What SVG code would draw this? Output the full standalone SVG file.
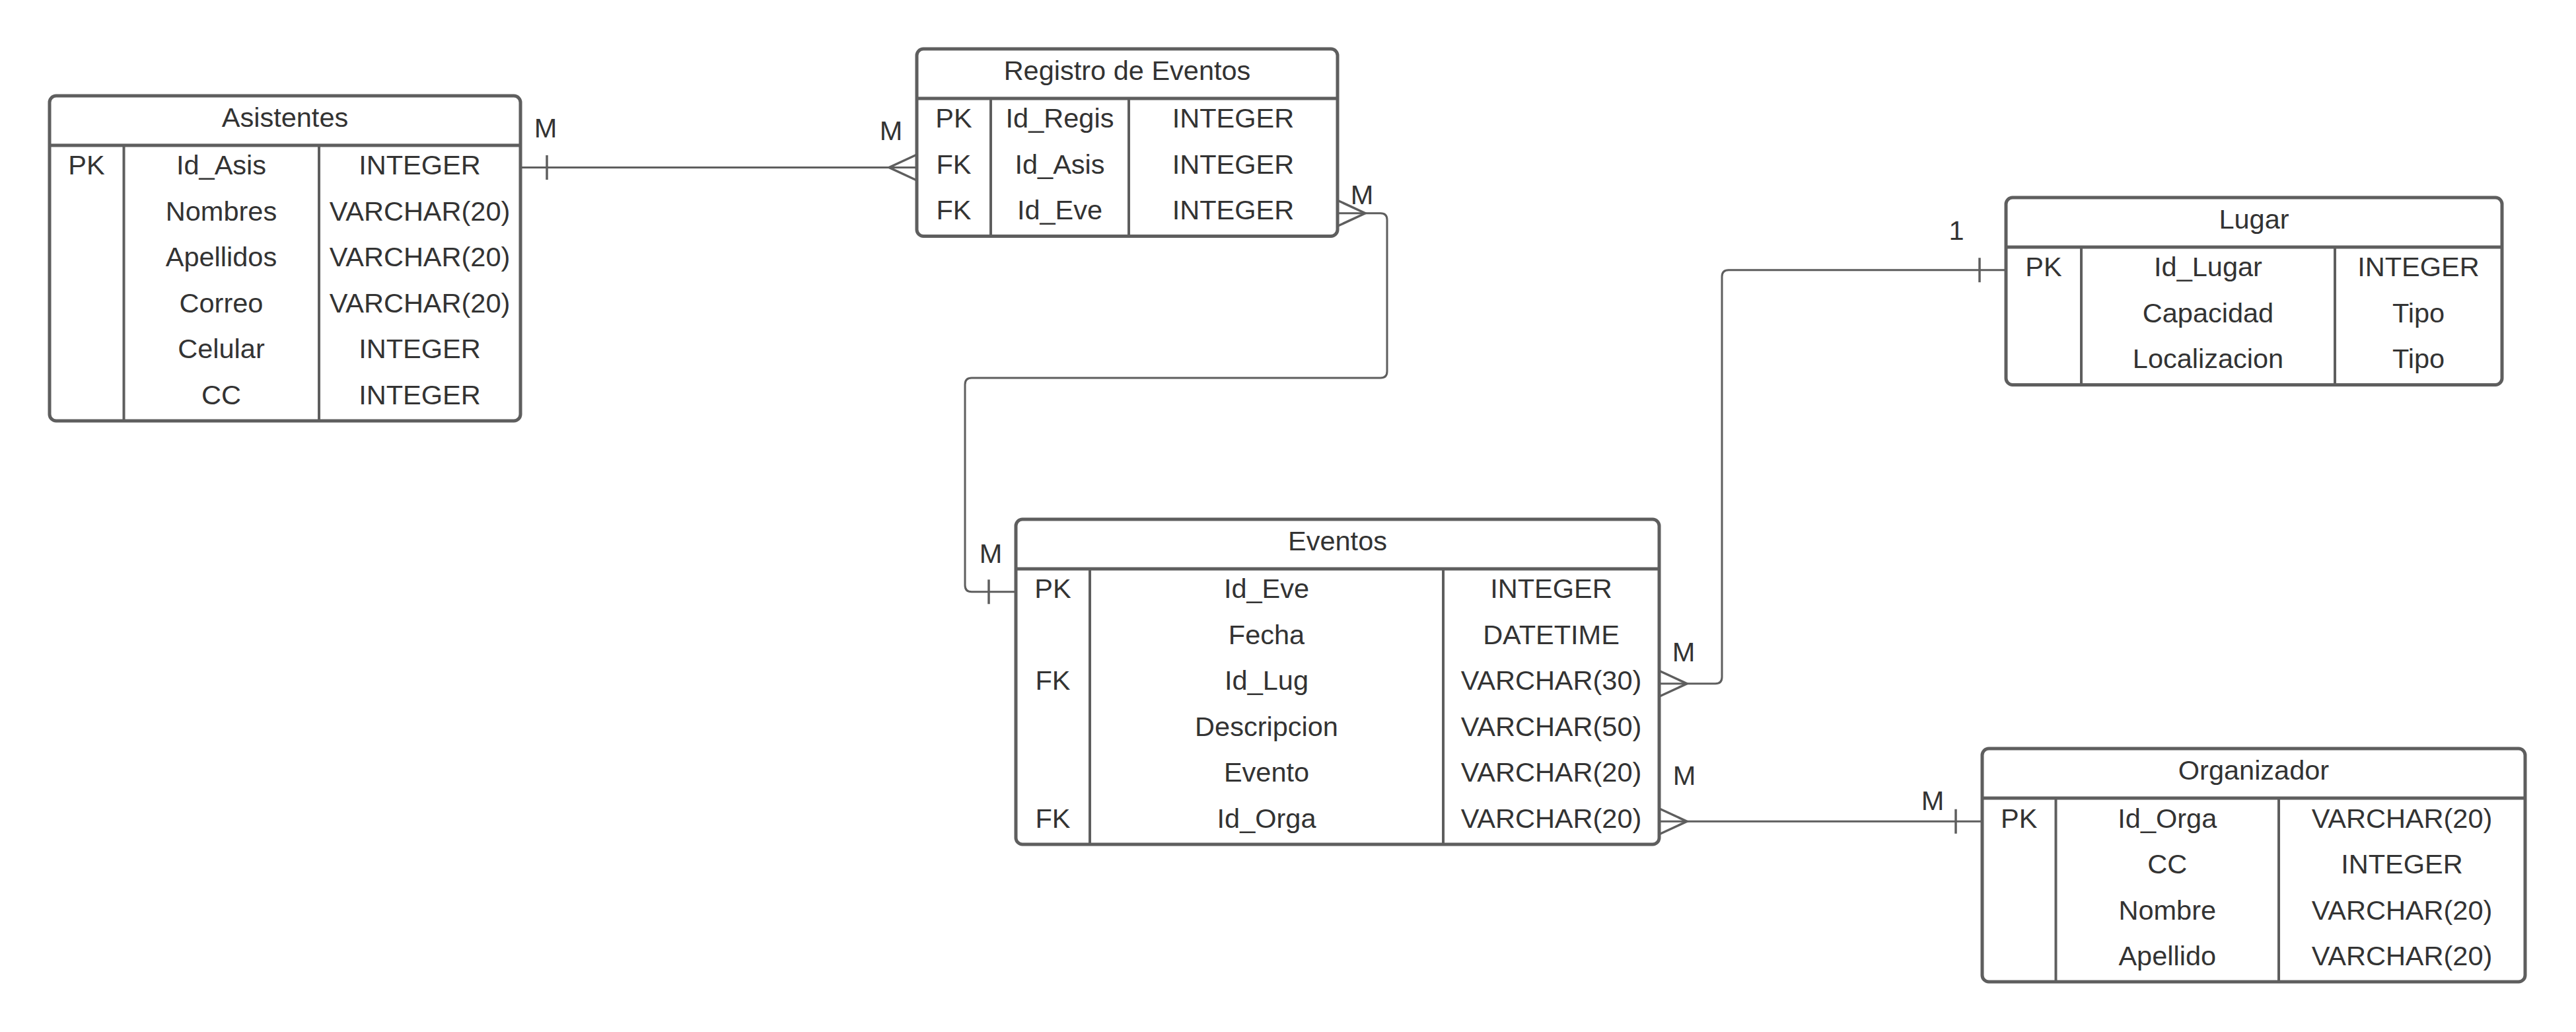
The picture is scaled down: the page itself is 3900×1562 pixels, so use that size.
<svg xmlns="http://www.w3.org/2000/svg" width="3900" height="1562" viewBox="0 0 3900 1562">
  <style>
    .box { fill: #ffffff; stroke: #5e5e5e; stroke-width: 5; }
    .hdr { stroke: #5e5e5e; stroke-width: 5; fill: none; }
    .col { stroke: #5e5e5e; stroke-width: 4; fill: none; }
    .t { font-family: "Liberation Sans", Arial, sans-serif; font-size: 41.5px; fill: #333333; text-anchor: middle; }
    .link { stroke: #5e5e5e; stroke-width: 3; fill: none; }
    .end { stroke: #5e5e5e; stroke-width: 3.5; fill: none; }
  </style>
  <rect width="3900" height="1562" fill="#ffffff"/>

  <!-- Asistentes -->
  <g id="asistentes">
    <rect class="box" x="75" y="145" width="713" height="492" rx="10"/>
    <line class="hdr" x1="75" y1="220" x2="788" y2="220"/>
    <line class="col" x1="187.5" y1="220" x2="187.5" y2="637"/>
    <line class="col" x1="483" y1="220" x2="483" y2="637"/>
    <text class="t" x="431.5" y="192">Asistentes</text>
    <text class="t" x="131" y="264">PK</text>
    <text class="t" x="335" y="264">Id_Asis</text>
    <text class="t" x="635.5" y="264">INTEGER</text>
    <text class="t" x="335" y="333.5">Nombres</text>
    <text class="t" x="635.5" y="333.5">VARCHAR(20)</text>
    <text class="t" x="335" y="403">Apellidos</text>
    <text class="t" x="635.5" y="403">VARCHAR(20)</text>
    <text class="t" x="335" y="472.5">Correo</text>
    <text class="t" x="635.5" y="472.5">VARCHAR(20)</text>
    <text class="t" x="335" y="542">Celular</text>
    <text class="t" x="635.5" y="542">INTEGER</text>
    <text class="t" x="335" y="611.5">CC</text>
    <text class="t" x="635.5" y="611.5">INTEGER</text>
  </g>

  <!-- Registro de Eventos -->
  <g id="registro-eventos">
    <rect class="box" x="1388" y="74" width="637" height="283.5" rx="10"/>
    <line class="hdr" x1="1388" y1="149" x2="2025" y2="149"/>
    <line class="col" x1="1500" y1="149" x2="1500" y2="357.5"/>
    <line class="col" x1="1709" y1="149" x2="1709" y2="357.5"/>
    <text class="t" x="1706.5" y="121">Registro de Eventos</text>
    <text class="t" x="1444" y="193">PK</text>
    <text class="t" x="1604.5" y="193">Id_Regis</text>
    <text class="t" x="1867" y="193">INTEGER</text>
    <text class="t" x="1444" y="262.5">FK</text>
    <text class="t" x="1604.5" y="262.5">Id_Asis</text>
    <text class="t" x="1867" y="262.5">INTEGER</text>
    <text class="t" x="1444" y="332">FK</text>
    <text class="t" x="1604.5" y="332">Id_Eve</text>
    <text class="t" x="1867" y="332">INTEGER</text>
  </g>

  <!-- Eventos -->
  <g id="eventos">
    <rect class="box" x="1538" y="786" width="974" height="492" rx="10"/>
    <line class="hdr" x1="1538" y1="861" x2="2512" y2="861"/>
    <line class="col" x1="1650" y1="861" x2="1650" y2="1278"/>
    <line class="col" x1="2185" y1="861" x2="2185" y2="1278"/>
    <text class="t" x="2025" y="833">Eventos</text>
    <text class="t" x="1594" y="905">PK</text>
    <text class="t" x="1917.5" y="905">Id_Eve</text>
    <text class="t" x="2348.5" y="905">INTEGER</text>
    <text class="t" x="1917.5" y="974.5">Fecha</text>
    <text class="t" x="2348.5" y="974.5">DATETIME</text>
    <text class="t" x="1594" y="1044">FK</text>
    <text class="t" x="1917.5" y="1044">Id_Lug</text>
    <text class="t" x="2348.5" y="1044">VARCHAR(30)</text>
    <text class="t" x="1917.5" y="1113.5">Descripcion</text>
    <text class="t" x="2348.5" y="1113.5">VARCHAR(50)</text>
    <text class="t" x="1917.5" y="1183">Evento</text>
    <text class="t" x="2348.5" y="1183">VARCHAR(20)</text>
    <text class="t" x="1594" y="1252.5">FK</text>
    <text class="t" x="1917.5" y="1252.5">Id_Orga</text>
    <text class="t" x="2348.5" y="1252.5">VARCHAR(20)</text>
  </g>

  <!-- Lugar -->
  <g id="lugar">
    <rect class="box" x="3037" y="299" width="751" height="283.5" rx="10"/>
    <line class="hdr" x1="3037" y1="374" x2="3788" y2="374"/>
    <line class="col" x1="3151" y1="374" x2="3151" y2="582.5"/>
    <line class="col" x1="3535" y1="374" x2="3535" y2="582.5"/>
    <text class="t" x="3412.5" y="346">Lugar</text>
    <text class="t" x="3094" y="418">PK</text>
    <text class="t" x="3343" y="418">Id_Lugar</text>
    <text class="t" x="3661.5" y="418">INTEGER</text>
    <text class="t" x="3343" y="487.5">Capacidad</text>
    <text class="t" x="3661.5" y="487.5">Tipo</text>
    <text class="t" x="3343" y="557">Localizacion</text>
    <text class="t" x="3661.5" y="557">Tipo</text>
  </g>

  <!-- Organizador -->
  <g id="organizador">
    <rect class="box" x="3001" y="1133" width="822" height="353" rx="10"/>
    <line class="hdr" x1="3001" y1="1208" x2="3823" y2="1208"/>
    <line class="col" x1="3112.5" y1="1208" x2="3112.5" y2="1486"/>
    <line class="col" x1="3450" y1="1208" x2="3450" y2="1486"/>
    <text class="t" x="3412" y="1180">Organizador</text>
    <text class="t" x="3056.75" y="1252.5">PK</text>
    <text class="t" x="3281.25" y="1252.5">Id_Orga</text>
    <text class="t" x="3636.5" y="1252.5">VARCHAR(20)</text>
    <text class="t" x="3281.25" y="1322">CC</text>
    <text class="t" x="3636.5" y="1322">INTEGER</text>
    <text class="t" x="3281.25" y="1391.5">Nombre</text>
    <text class="t" x="3636.5" y="1391.5">VARCHAR(20)</text>
    <text class="t" x="3281.25" y="1461">Apellido</text>
    <text class="t" x="3636.5" y="1461">VARCHAR(20)</text>
  </g>

  <!-- Relationships -->
  <g id="connectors">
    <!-- Asistentes 1 : M Registro de Eventos -->
    <path class="link" d="M788,253.5 H1388"/>
    <path class="end" d="M828,235 V272"/>
    <path class="end" d="M1388,234 L1346,253.5 L1388,273"/>
    <text class="t" x="826" y="208">M</text>
    <text class="t" x="1349" y="212">M</text>

    <!-- Registro de Eventos M : 1 Eventos -->
    <path class="link" d="M2025,322.75 H2090 Q2100,322.75 2100,332.75 V562 Q2100,572 2090,572 H1471 Q1461,572 1461,582 V885.75 Q1461,895.75 1471,895.75 H1538"/>
    <path class="end" d="M2025,303.25 L2067,322.75 L2025,342.25"/>
    <path class="end" d="M1497,877.25 V914.25"/>
    <text class="t" x="2062" y="309">M</text>
    <text class="t" x="1500" y="852">M</text>

    <!-- Eventos M : 1 Lugar -->
    <path class="link" d="M2512,1034.75 H2597 Q2607,1034.75 2607,1024.75 V418.75 Q2607,408.75 2617,408.75 H3037"/>
    <path class="end" d="M2512,1015.25 L2554,1034.75 L2512,1054.25"/>
    <path class="end" d="M2997,390.25 V427.25"/>
    <text class="t" x="2549" y="1001">M</text>
    <text class="t" x="2962" y="363">1</text>

    <!-- Eventos M : 1 Organizador -->
    <path class="link" d="M2512,1243.25 H3001"/>
    <path class="end" d="M2512,1223.75 L2554,1243.25 L2512,1262.75"/>
    <path class="end" d="M2961,1224.75 V1261.75"/>
    <text class="t" x="2550" y="1188">M</text>
    <text class="t" x="2926" y="1226">M</text>
  </g>
</svg>
